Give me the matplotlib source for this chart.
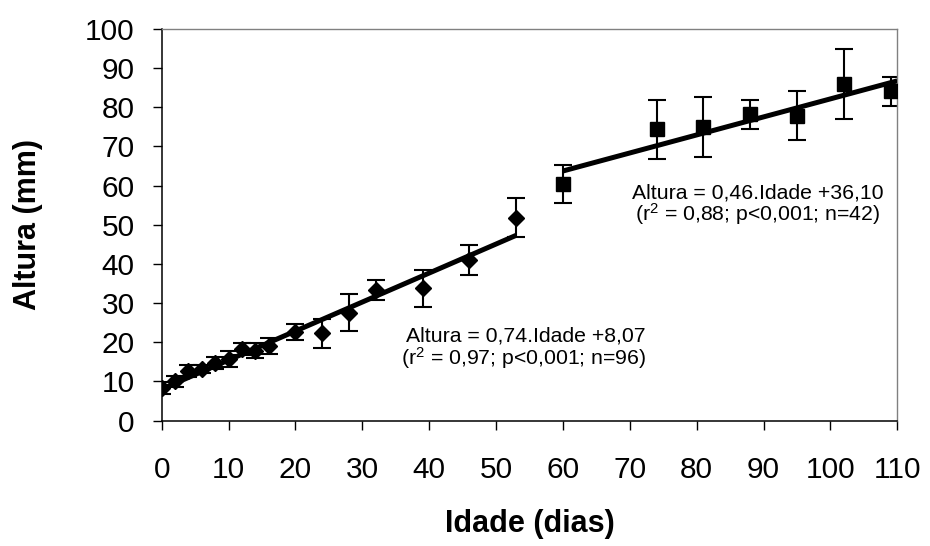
import matplotlib
matplotlib.use("Agg")
import matplotlib.pyplot as plt
import numpy as np

plt.rcParams['font.family'] = ['Liberation Sans', 'DejaVu Sans']
plt.rcParams['mathtext.fontset'] = 'custom'
plt.rcParams['mathtext.rm'] = 'Liberation Sans'
plt.rcParams['mathtext.it'] = 'Liberation Sans'

# Phase 1 (diamonds)
idade1 = [0, 2, 4, 6, 8, 10, 12, 14, 16, 20, 24, 28, 32, 39, 46, 53]
altura1 = [8.3, 10.0, 12.7, 13.2, 14.8, 15.7, 18.3, 17.9, 19.1, 22.6, 22.3, 27.6, 33.3, 33.8, 41.0, 51.8]
erro1 = [1.5, 1.5, 1.5, 1.0, 1.5, 2.1, 1.5, 2.0, 2.0, 2.1, 3.7, 4.6, 2.5, 4.7, 3.9, 4.9]

# Phase 2 (squares)
idade2 = [60, 74, 81, 88, 95, 102, 109]
altura2 = [60.4, 74.3, 74.9, 78.2, 77.8, 85.8, 84.0]
erro2 = [4.9, 7.5, 7.7, 3.7, 6.2, 8.9, 3.7]

# Regressions
slope1, icpt1, xr1 = 0.74, 8.07, [0, 53]
slope2, icpt2, xr2 = 0.46, 36.10, [60, 110]

xticks = list(range(0, 111, 10))
yticks = list(range(0, 101, 10))

fig = plt.figure(figsize=(9.30, 5.46), dpi=100)
ax = fig.add_axes([0.1739, 0.2295, 0.7909, 0.7179])

ax.errorbar(idade1, altura1, yerr=erro1, fmt='none', ecolor='black', elinewidth=1.5, capsize=6.5, capthick=1.5, zorder=2)
ax.errorbar(idade2, altura2, yerr=erro2, fmt='none', ecolor='black', elinewidth=1.5, capsize=6.5, capthick=1.5, zorder=2)

x1 = np.array(xr1, dtype=float)
x2 = np.array(xr2, dtype=float)
ax.plot(x1, slope1 * x1 + icpt1, color='black', lw=3.6, solid_capstyle='butt', zorder=3)
ax.plot(x2, slope2 * x2 + icpt2, color='black', lw=3.6, solid_capstyle='butt', zorder=3)

ax.plot(idade1, altura1, linestyle='none', marker='D', markersize=8, color='black', zorder=4)
ax.plot(idade2, altura2, linestyle='none', marker='s', markersize=10, color='black', zorder=4)

ax.set_xlim(0, 110)
ax.set_ylim(0, 100)
ax.set_xticks(xticks)
ax.set_yticks(yticks)
ax.tick_params(axis='both', direction='out', length=6.5, width=1, labelsize=21.5, color='black')
ax.tick_params(axis='x', pad=19)
ax.tick_params(axis='y', pad=13)

for s in ['left', 'bottom']:
    ax.spines[s].set_color('black')
    ax.spines[s].set_linewidth(1.1)
for s in ['top', 'right']:
    ax.spines[s].set_color('#808080')
    ax.spines[s].set_linewidth(1.0)

ax.set_xlabel('Idade (dias)', fontsize=22, fontweight='bold', labelpad=18)
ax.set_ylabel('Altura (mm)', fontsize=22, fontweight='bold', labelpad=30)

ax.text(54.5, 20.1, 'Altura = 0,74.Idade +8,07', fontsize=15.3, ha='center', va='baseline')
ax.text(54.2, 14.2, '(r$^2$ = 0,97; p<0,001; n=96)', fontsize=15.3, ha='center', va='baseline')
ax.text(89.2, 56.6, 'Altura = 0,46.Idade +36,10', fontsize=15.3, ha='center', va='baseline')
ax.text(89.15, 51.0, '(r$^2$ = 0,88; p<0,001; n=42)', fontsize=15.3, ha='center', va='baseline')

fig.savefig('out.png', dpi=100)
